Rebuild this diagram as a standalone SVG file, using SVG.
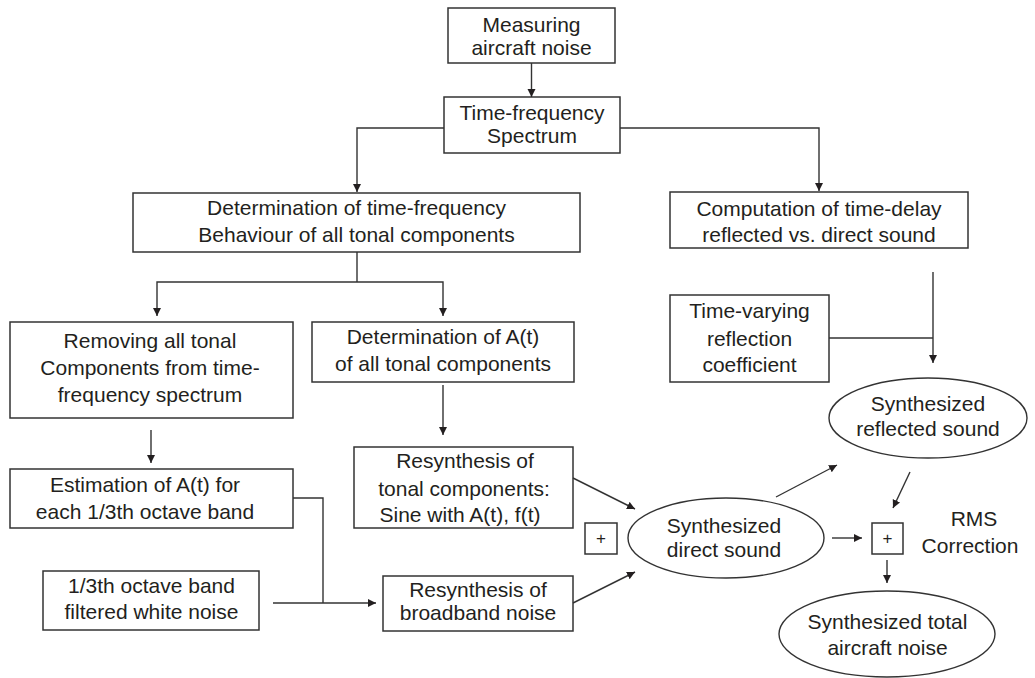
<svg xmlns="http://www.w3.org/2000/svg" width="1035" height="678" viewBox="0 0 1035 678">
  <style>
    .box { fill: #ffffff; stroke: #333333; stroke-width: 1.5; }
    .oval { fill: #ffffff; stroke: #333333; stroke-width: 1.4; }
    .lbl { font-family: "Liberation Sans", Arial, sans-serif; font-size: 21px; fill: #231f20; text-anchor: middle; }
    .plus { font-family: "Liberation Sans", Arial, sans-serif; font-size: 17px; fill: #231f20; text-anchor: middle; }
    .wire { fill: none; stroke: #333333; stroke-width: 1.4; }
  </style>
  <defs>
    <marker id="arrow" markerWidth="9" markerHeight="9" refX="8" refY="4" orient="auto" markerUnits="userSpaceOnUse">
      <path d="M0,0 L8,4 L0,8 Z" fill="#231f20"/>
    </marker>
  </defs>
  <rect width="1035" height="678" fill="#ffffff"/>

  <g id="measuring">
    <rect class="box" x="448" y="8" width="167" height="55"/>
    <text class="lbl" x="531.5" y="32">Measuring</text>
    <text class="lbl" x="531.5" y="55">aircraft noise</text>
  </g>

  <g id="tf-spectrum">
    <rect class="box" x="444" y="97" width="176" height="56"/>
    <text class="lbl" x="532" y="120">Time-frequency</text>
    <text class="lbl" x="532" y="143">Spectrum</text>
  </g>

  <g id="tf-behaviour">
    <rect class="box" x="133" y="193" width="447" height="59"/>
    <text class="lbl" x="356.5" y="215">Determination of time-frequency</text>
    <text class="lbl" x="356.5" y="242">Behaviour of all tonal components</text>
  </g>

  <g id="time-delay">
    <rect class="box" x="670" y="192" width="298" height="56"/>
    <text class="lbl" x="819" y="216">Computation of time-delay</text>
    <text class="lbl" x="819" y="242">reflected vs. direct sound</text>
  </g>

  <g id="reflection-coef">
    <rect class="box" x="670" y="295" width="159" height="87"/>
    <text class="lbl" x="749.5" y="318">Time-varying</text>
    <text class="lbl" x="749.5" y="346">reflection</text>
    <text class="lbl" x="749.5" y="372">coefficient</text>
  </g>

  <g id="remove-tonal">
    <rect class="box" x="10" y="322" width="283" height="96"/>
    <text class="lbl" x="150" y="348">Removing all tonal</text>
    <text class="lbl" x="150" y="375">Components from time-</text>
    <text class="lbl" x="150" y="402">frequency spectrum</text>
  </g>

  <g id="amplitude-tonal">
    <rect class="box" x="312" y="322" width="262" height="60"/>
    <text class="lbl" x="443" y="344">Determination of A(t)</text>
    <text class="lbl" x="443" y="371">of all tonal components</text>
  </g>

  <g id="band-estimation">
    <rect class="box" x="10" y="469" width="283" height="59"/>
    <text class="lbl" x="145" y="492">Estimation of A(t) for</text>
    <text class="lbl" x="145" y="519">each 1/3th octave band</text>
  </g>

  <g id="tonal-resynthesis">
    <rect class="box" x="354" y="447" width="219" height="81"/>
    <text class="lbl" x="465" y="468">Resynthesis of</text>
    <text class="lbl" x="464" y="496">tonal components:</text>
    <text class="lbl" x="460" y="522">Sine with A(t), f(t)</text>
  </g>

  <g id="white-noise">
    <rect class="box" x="43" y="571" width="216" height="59"/>
    <text class="lbl" x="151.5" y="593">1/3th octave band</text>
    <text class="lbl" x="151.5" y="619">filtered white noise</text>
  </g>

  <g id="broadband-resynthesis">
    <rect class="box" x="383" y="576" width="190" height="55"/>
    <text class="lbl" x="478" y="597">Resynthesis of</text>
    <text class="lbl" x="478" y="620">broadband noise</text>
  </g>

  <g id="sum-direct">
    <rect class="box" x="585" y="523" width="32" height="31"/>
    <text class="plus" x="601" y="544">+</text>
  </g>

  <g id="direct-sound">
    <ellipse class="oval" cx="726" cy="538" rx="98" ry="40"/>
    <text class="lbl" x="724" y="533">Synthesized</text>
    <text class="lbl" x="724" y="557">direct sound</text>
  </g>

  <g id="reflected-sound">
    <ellipse class="oval" cx="928" cy="418" rx="99" ry="40"/>
    <text class="lbl" x="928" y="411">Synthesized</text>
    <text class="lbl" x="928" y="436">reflected sound</text>
  </g>

  <g id="sum-total">
    <rect class="box" x="872" y="523" width="31" height="31"/>
    <text class="plus" x="887.5" y="544">+</text>
  </g>

  <g id="rms-correction">
    <text class="lbl" x="974" y="526">RMS</text>
    <text class="lbl" x="970" y="553">Correction</text>
  </g>

  <g id="total-noise">
    <ellipse class="oval" cx="887" cy="634" rx="108" ry="43"/>
    <text class="lbl" x="887.5" y="629">Synthesized total</text>
    <text class="lbl" x="887.5" y="655">aircraft noise</text>
  </g>

  <g id="connectors">
    <path class="wire" d="M531.5,63 V97" marker-end="url(#arrow)"/>
    <path class="wire" d="M444,128 H357 V192" marker-end="url(#arrow)"/>
    <path class="wire" d="M620,128 H819 V191" marker-end="url(#arrow)"/>
    <path class="wire" d="M357,252 V282"/>
    <path class="wire" d="M357,282 H157 V316" marker-end="url(#arrow)"/>
    <path class="wire" d="M357,282 H443 V316" marker-end="url(#arrow)"/>
    <path class="wire" d="M443,385 V435" marker-end="url(#arrow)"/>
    <path class="wire" d="M151,430 V463" marker-end="url(#arrow)"/>
    <path class="wire" d="M293,498 H323 V603"/>
    <path class="wire" d="M273,603 H376" marker-end="url(#arrow)"/>
    <path class="wire" d="M933,272 V363" marker-end="url(#arrow)"/>
    <path class="wire" d="M829,338 H933"/>
    <path class="wire" d="M573,478 L635,509" marker-end="url(#arrow)"/>
    <path class="wire" d="M573,603 L635,572" marker-end="url(#arrow)"/>
    <path class="wire" d="M776,497 L837,465" marker-end="url(#arrow)"/>
    <path class="wire" d="M832,538 H862" marker-end="url(#arrow)"/>
    <path class="wire" d="M910,472 L893,508" marker-end="url(#arrow)"/>
    <path class="wire" d="M887,560 V583" marker-end="url(#arrow)"/>
  </g>
</svg>
